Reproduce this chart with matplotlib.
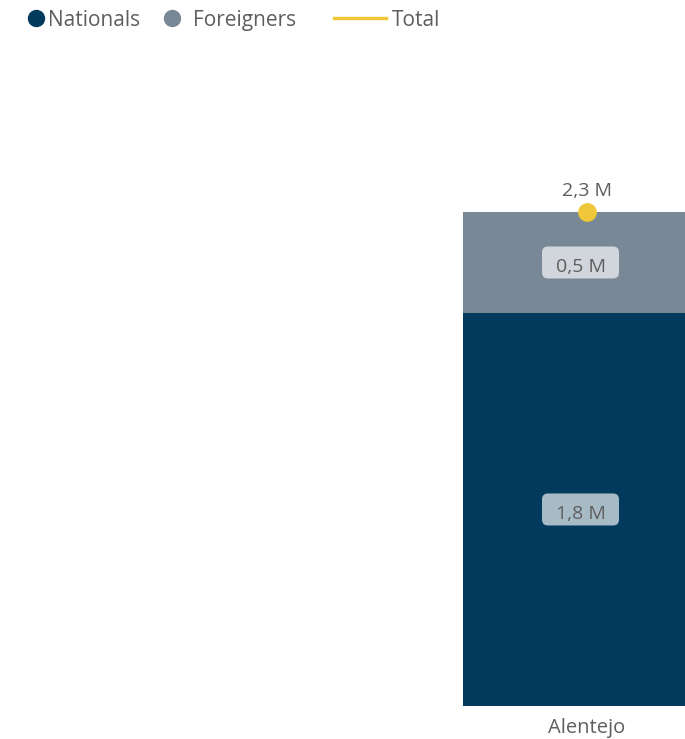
import matplotlib
matplotlib.use("Agg")
import matplotlib.pyplot as plt
from matplotlib.lines import Line2D
from matplotlib.patches import FancyBboxPatch
from matplotlib.transforms import Affine2D, ScaledTranslation

# Guests by region (millions)
categories = ["Alentejo"]
nationals = [1.83]
foreigners = [0.47]
totals = [2.30]
series_names = ["Nationals", "Foreigners", "Total"]

C_NAT = "#013A5C"
C_FOR = "#788897"
C_TOT = "#F0C73A"
C_TXT = "#605E5C"

plt.rcParams["font.family"] = ["Open Sans", "DejaVu Sans"]

W, H = 685, 739
DPI = 100
fig = plt.figure(figsize=(W / DPI, H / DPI), dpi=DPI)

# plot area: bar of width 1 centred at x=0, 248 px per unit
px_per_unit = 248.0
center_px = 587.0
base_px = 706.0
ymax = 3.0
px_per_val = 494.0 / 2.30
top_px = base_px - ymax * px_per_val
ax = fig.add_axes([0, (H - base_px) / H, 1, (base_px - top_px) / H])
ax.set_xlim(-center_px / px_per_unit, (W - center_px) / px_per_unit)
ax.set_ylim(0, ymax)
ax.axis("off")

x = list(range(len(categories)))
ax.bar(x, nationals, width=1.0, color=C_NAT, linewidth=0)
ax.bar(x, foreigners, width=1.0, bottom=nationals, color=C_FOR, linewidth=0)
ax.plot(x, totals, "o", color=C_TOT, markersize=12.5, zorder=5, clip_on=False)


def fmt(v):
    return f"{v:.1f}".replace(".", ",") + " M"


def px(n):
    return n * 72.0 / DPI


LABEL_DX = -6.5  # pixels


def boxed_label(xv, yv, s):
    # rounded, semi-transparent label box of fixed pixel size
    tr = Affine2D().translate(LABEL_DX, 0) + ScaledTranslation(xv, yv, ax.transData)
    patch = FancyBboxPatch((-38.5, -16), 77, 32,
                           boxstyle="round,pad=0,rounding_size=6",
                           fc="white", ec="none", alpha=0.66,
                           transform=tr, zorder=6)
    ax.add_patch(patch)
    ax.annotate(s, (xv, yv), xytext=(px(LABEL_DX), -px(9.5)), textcoords="offset points",
                ha="center", va="baseline", fontsize=14, color=C_TXT, zorder=7)


for i in x:
    boxed_label(i, nationals[i] / 2, fmt(nationals[i]))
    boxed_label(i, nationals[i] + foreigners[i] / 2, fmt(foreigners[i]))
    ax.annotate(fmt(totals[i]), (i, totals[i]), xytext=(0, px(16)),
                textcoords="offset points", ha="center", va="baseline",
                fontsize=14, color=C_TXT)
    ax.annotate(categories[i], (i, 0), xytext=(0, -px(27)),
                textcoords="offset points", ha="center", va="baseline",
                fontsize=14.5, color=C_TXT, annotation_clip=False)

# legend row
lg = fig.add_axes([0, 0, 1, 1])
lg.set_xlim(0, W)
lg.set_ylim(H, 0)
lg.axis("off")
ly = 18
base = 26
lg.plot([36], [ly], "o", color=C_NAT, markersize=11.5)
lg.text(48, base, series_names[0], ha="left", va="baseline", fontsize=15, color=C_TXT)
lg.plot([172], [ly], "o", color=C_FOR, markersize=11.5)
lg.text(193, base, series_names[1], ha="left", va="baseline", fontsize=15, color=C_TXT)
lg.add_line(Line2D([334, 386], [ly, ly], color=C_TOT, linewidth=2.5))
lg.text(392, base, series_names[2], ha="left", va="baseline", fontsize=15, color=C_TXT)

fig.savefig("out.png", dpi=DPI)
